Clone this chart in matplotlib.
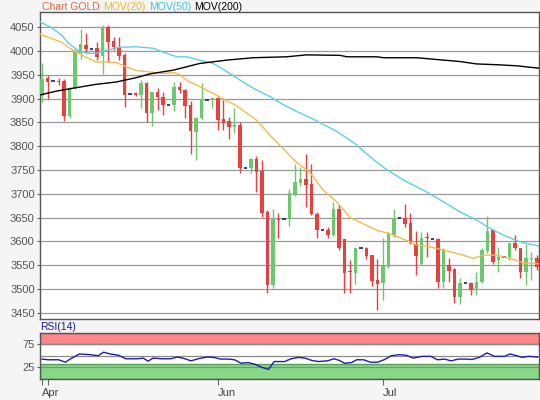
import matplotlib
matplotlib.use("Agg")
import matplotlib.pyplot as plt

plt.rcParams['font.family'] = ['Liberation Sans', 'DejaVu Sans']

# candle data, one entry per session
opens = [3905, 3943, 3937, 3937, 3938, 3864, 3922, 3995, 4013, 4005,
         4006, 3990, 4050, 4022, 4009, 3992, 3909, 3911, 3908, 3932,
         3869, 3913, 3904, 3887, 3886, 3924, 3919, 3886, 3830, 3859,
         3897, 3897, 3902, 3857, 3852, 3840, 3845, 3755, 3755, 3773,
         3747, 3662, 3508, 3648, 3646, 3646, 3698, 3723, 3732, 3720,
         3658, 3624, 3624, 3613, 3668, 3604, 3537, 3534, 3585, 3585,
         3571, 3519, 3512, 3546, 3614, 3650, 3650, 3638, 3594, 3553,
         3610, 3606, 3606, 3515, 3550, 3541, 3484, 3512, 3512, 3498,
         3515, 3579, 3624, 3560, 3567, 3567, 3596, 3585, 3536, 3562,
         3565]
highs = [3975, 3950, 3940, 3944, 3941, 3924, 4004, 4047, 4037, 4007,
         4020, 4055, 4055, 4029, 4030, 3995, 3911, 3914, 3939, 3936,
         3915, 3922, 3913, 3889, 3934, 3934, 3920, 3894, 3861, 3932,
         3899, 3904, 3904, 3897, 3862, 3880, 3850, 3757, 3775, 3779,
         3771, 3666, 3669, 3660, 3648, 3711, 3763, 3756, 3784, 3763,
         3662, 3626, 3630, 3683, 3676, 3606, 3561, 3587, 3587, 3589,
         3571, 3562, 3608, 3620, 3667, 3652, 3678, 3660, 3622, 3620,
         3620, 3608, 3607, 3585, 3564, 3543, 3522, 3514, 3515, 3536,
         3585, 3653, 3627, 3589, 3569, 3597, 3613, 3587, 3595, 3578,
         3571]
lows = [3893, 3900, 3934, 3928, 3853, 3860, 3920, 3983, 3995, 4003,
        3981, 3952, 3978, 4002, 3981, 3883, 3907, 3905, 3880, 3850,
        3843, 3876, 3866, 3885, 3873, 3911, 3859, 3783, 3771, 3855,
        3895, 3880, 3834, 3834, 3816, 3828, 3744, 3753, 3744, 3704,
        3652, 3492, 3503, 3608, 3644, 3633, 3695, 3716, 3673, 3655,
        3608, 3622, 3608, 3611, 3582, 3491, 3491, 3510, 3583, 3562,
        3506, 3456, 3477, 3543, 3610, 3648, 3631, 3594, 3529, 3550,
        3568, 3604, 3501, 3501, 3515, 3470, 3468, 3510, 3487, 3487,
        3513, 3575, 3552, 3536, 3565, 3561, 3582, 3524, 3508, 3519,
        3540]
closes = [3942, 3936, 3937, 3935, 3864, 3922, 3997, 4015, 4005, 4005,
          3988, 4050, 4020, 4009, 3990, 3908, 3909, 3908, 3932, 3869,
          3913, 3904, 3886, 3887, 3924, 3918, 3885, 3831, 3859, 3897,
          3897, 3902, 3855, 3849, 3840, 3845, 3755, 3755, 3773, 3746,
          3660, 3508, 3646, 3645, 3646, 3702, 3724, 3732, 3718, 3657,
          3624, 3624, 3613, 3668, 3585, 3534, 3535, 3585, 3585, 3569,
          3517, 3511, 3548, 3617, 3650, 3650, 3637, 3596, 3569, 3608,
          3607, 3606, 3515, 3583, 3538, 3484, 3512, 3512, 3498, 3515,
          3582, 3622, 3557, 3568, 3567, 3596, 3585, 3536, 3564, 3565,
          3547]

# moving averages (session index, value)
ma20_x = [-0.3, 1.8, 3.5, 4.7, 6.2, 8, 9.8, 11.6, 13.5, 15.3, 17.2, 19.6,
          22.1, 23.9, 25.1, 26.3, 28.7, 31.1, 33.3, 35.1, 39, 41.3, 43.9,
          46.3, 48.7, 51.1, 53.6, 56, 58.4, 60.9, 63, 64.5, 66.9, 68.1,
          69.9, 71.8, 74.2, 76.6, 78.4, 80.2, 82.7, 85.1, 87.5, 90.4]
ma20_y = [4035, 4026, 4019, 4009, 3998, 3987, 3977, 3977, 3976, 3967, 3959,
          3956, 3953, 3955, 3950, 3939, 3925, 3911, 3897, 3887, 3855, 3825,
          3794, 3766, 3745, 3708, 3683, 3650, 3637, 3623, 3617, 3610, 3599,
          3592, 3590, 3585, 3578, 3571, 3564, 3571, 3571, 3564, 3555, 3553]
ma50_x = [-0.3, 1.9, 3.7, 4.7, 6.2, 8, 9.8, 11.6, 14, 17.1, 20.2, 22.7,
          24.5, 26.3, 28.7, 31.1, 33.6, 36, 38.4, 41.5, 43.9, 46.3, 49.3,
          53.6, 57.2, 59.6, 62.4, 65.7, 69.9, 73, 76, 79, 81.5, 83.9, 86.9,
          90.4]
ma50_y = [4061, 4048, 4032, 4018, 4004, 3996, 3995, 4001, 4008, 4009, 4006,
          3995, 3988, 3988, 3981, 3974, 3957, 3939, 3922, 3904, 3887, 3873,
          3857, 3831, 3803, 3778, 3753, 3729, 3704, 3683, 3662, 3645, 3627,
          3613, 3599, 3590]
ma200_x = [-0.3, 2.7, 6.2, 9.8, 13.5, 17.1, 19.6, 23.9, 28.7, 33.6, 38.4,
           41.5, 44.5, 48.1, 54.2, 55.4, 60.9, 62.1, 68.1, 73, 76, 79, 83.3,
           86.3, 90.4]
ma200_y = [3908, 3916, 3923, 3930, 3935, 3944, 3952, 3960, 3974, 3981, 3986,
           3987, 3988, 3992, 3991, 3988, 3988, 3986, 3986, 3981, 3978, 3973,
           3971, 3969, 3964]

# RSI(14)
rsi_x = [0, 1.1, 3, 4.3, 4.9, 6.8, 8.7, 10.2, 11.2, 12.4, 14, 15.2, 17.4,
         18.4, 19.3, 20.2, 21.8, 23.4, 24.6, 25.6, 27.1, 28.4, 30, 31.2,
         32.5, 34, 35, 36.2, 37.5, 38.7, 40, 41.2, 42.2, 44.1, 45.3, 46.6,
         47.8, 49.1, 50.3, 51.9, 53.1, 54.1, 55, 56.3, 57.2, 58.5, 59.7, 61,
         62.2, 63.5, 65, 66.3, 67.5, 69.1, 70.7, 71.9, 73.2, 74.4, 75.7,
         76.9, 78.2, 79.5, 80.9, 82.3, 84.1, 85.1, 86.3, 87.3, 88.5, 90.1]
rsi_y = [42.9, 41.4, 41.4, 36.1, 41.4, 54.2, 52.6, 50.3, 57.9, 54.2, 51.1,
         43.6, 43.6, 45.1, 38.4, 45.1, 43.6, 43.6, 47.4, 45.1, 39.1, 43.6,
         47.4, 46.6, 42.9, 42.9, 41.4, 33.9, 35.3, 31.6, 24.8, 20.3, 37.5,
         37.5, 43.6, 46.6, 45.1, 39.8, 37.5, 39.1, 43.6, 39.8, 33.9, 35.3,
         41.4, 41.4, 36.1, 36.1, 41.4, 50.3, 52.6, 51.1, 45.1, 48.9, 48.9,
         41.4, 42.9, 39.1, 42.9, 42.9, 42.1, 46.6, 56.4, 48.9, 48.9, 54.2,
         50.3, 46.6, 48.9, 47.4]

months = ["Apr", "", "Jun", "Jul"]
month_idx = [0, 1, 32, 62]

W, H = 540, 400
fig = plt.figure(figsize=(W / 100, H / 100), dpi=100, facecolor='#f5f5f5')

# price panel
ax = fig.add_axes([40.3 / W, 1 - 319 / H, 499 / W, (319 - 12.3) / H])
ax.set_facecolor('white')
red, green, doji = '#e8403e', '#6cc86c', '#1c1c6c'
for i in range(len(opens)):
    o, h, l, c = opens[i], highs[i], lows[i], closes[i]
    if c > o:
        col = green
    elif c < o:
        col = red
    else:
        col = doji
    if col == doji:
        ax.hlines(o, i - 0.3, i + 0.3, color=doji, lw=1.2, zorder=3)
        continue
    ax.vlines(i, l, h, color=col, lw=1, zorder=2)
    ax.bar(i, abs(c - o), bottom=min(o, c), width=0.58, color=col,
           lw=0, zorder=3)

ax.plot(ma20_x, ma20_y, color='#f4bb4c', lw=1, zorder=4)
ax.plot(ma50_x, ma50_y, color='#5cd0ea', lw=1, zorder=4)
ax.plot(ma200_x, ma200_y, color='black', lw=1, zorder=4)

ax.set_xlim(-0.31, 90.42)
ax.set_ylim(3436.8, 4081.5)
ax.set_yticks(range(3450, 4051, 50))
ax.grid(axis='y', color='#9a9a9a', lw=0.9)
ax.set_axisbelow(True)
ax.set_xticks([])
ax.tick_params(axis='y', length=2, width=0.8, color='#666', labelsize=8,
               labelcolor='#555', pad=2)
for s in ax.spines.values():
    s.set_color('#555')
    s.set_linewidth(1)

# legend line at top
leg_size = 7.5
fig.text(41.7 / W, 1 - 7 / H, "Chart GOLD", color='#e8643c',
         fontsize=leg_size, va='center')
fig.text(103.3 / W, 1 - 7 / H, "MOV(20)", color='#f2b631',
         fontsize=leg_size, va='center')
fig.text(149.3 / W, 1 - 7 / H, "MOV(50)", color='#3ec3e6',
         fontsize=leg_size, va='center')
fig.text(194.3 / W, 1 - 7 / H, "MOV(200)", color='black',
         fontsize=leg_size, va='center')

# RSI panel
ar = fig.add_axes([40.3 / W, 1 - 378.7 / H, 499 / W, (378.7 - 333) / H])
ar.set_facecolor('white')
ar.axhspan(75, 100, facecolor='#ff8888', edgecolor='#c85a5a', lw=1)
ar.axhspan(0, 33, facecolor='#88d888', edgecolor='#5a9e5a', lw=1)
for lvl in (25, 50, 75):
    ar.axhline(lvl, color='#8a8a8a', lw=0.9, zorder=1)
ar.plot(rsi_x, rsi_y, color='#1e1eb0', lw=1, zorder=3)
ar.set_xlim(-0.31, 90.42)
ar.set_ylim(0, 100)
ar.set_yticks([25, 75])
ar.set_xticks(month_idx)
ar.set_xticklabels(months, ha='left')
ar.tick_params(axis='y', length=2, width=0.8, color='#666', labelsize=8,
               labelcolor='#555', pad=2)
ar.tick_params(axis='x', length=4, width=0.8, color='#666', labelsize=8,
               labelcolor='#444', pad=3)
for s in ar.spines.values():
    s.set_color('#555')
    s.set_linewidth(1)
fig.text(40.5 / W, 1 - 327 / H, "RSI(14)", color='#1a1aa0',
         fontsize=leg_size, va='center')

fig.savefig("out.png", dpi=100, facecolor=fig.get_facecolor())
